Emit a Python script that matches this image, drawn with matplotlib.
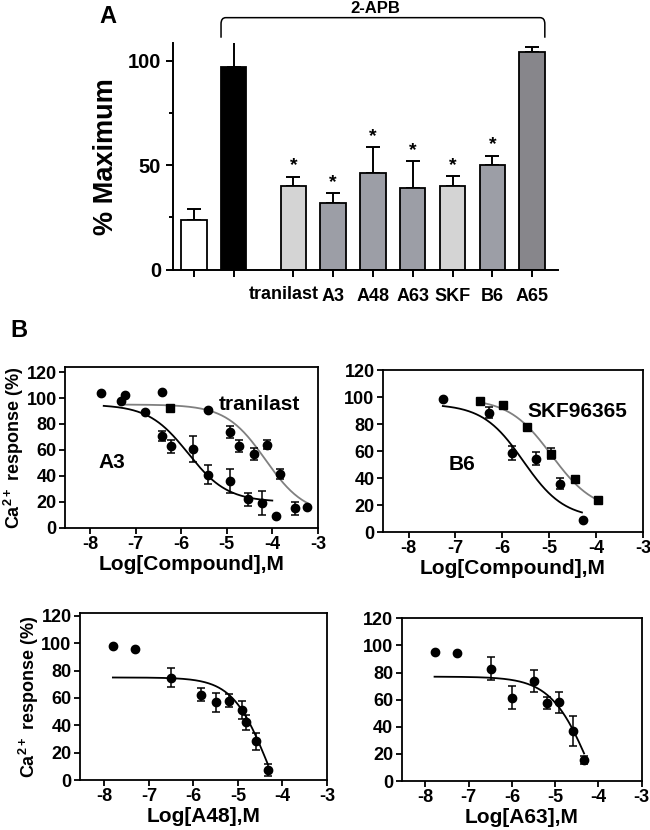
import numpy as np
import matplotlib
matplotlib.use('Agg')
import matplotlib.pyplot as plt
from matplotlib.path import Path
from matplotlib.patches import PathPatch

plt.rcParams['font.family'] = ['Liberation Sans', 'DejaVu Sans']
plt.rcParams['font.weight'] = 'bold'
plt.rcParams['axes.labelweight'] = 'bold'
plt.rcParams['axes.unicode_minus'] = False
plt.rcParams['mathtext.fontset'] = 'custom'
plt.rcParams['mathtext.rm'] = 'Liberation Sans:bold'
plt.rcParams['mathtext.bf'] = 'Liberation Sans:bold'

# ---- panel A data
bar_labels = ['', '', 'tranilast', 'A3', 'A48', 'A63', 'SKF', 'B6', 'A65']
bar_values = [23.9, 97.0, 40.1, 31.7, 46.2, 39.3, 40.1, 50.2, 104.3]
bar_errors = [5.2, 12.2, 4.5, 4.9, 12.6, 12.6, 4.9, 4.4, 2.2]
bar_stars = [False, False, True, True, True, True, True, True, False]

# ---- panel B data (log M, % response, SEM)
a3_x = [-7.75, -7.24, -6.80, -6.41, -6.42, -6.22, -5.74, -5.41, -4.92, -4.54, -4.23, -3.92]
a3_y = [103.6, 102.0, 89.5, 105.0, 70.7, 63.0, 61.0, 41.0, 36.0, 22.0, 19.3, 9.0]
a3_err = [0, 0, 0, 0, 4.0, 5.0, 10.0, 7.5, 9.5, 5.0, 9.0, 0]

tran_x = [-7.33, -6.24, -5.41, -4.92, -4.74, -4.40, -4.12, -3.83, -3.51, -3.23]
tran_y = [97.4, 92.0, 90.5, 74.0, 63.0, 57.0, 64.0, 41.6, 15.0, 16.0]
tran_err = [0, 2.0, 0, 4.5, 4.5, 4.5, 3.5, 4.0, 5.0, 0]

b6_x = [-7.27, -6.28, -5.79, -5.28, -4.77, -4.28]
b6_y = [98.3, 88.6, 58.7, 54.5, 35.9, 9.2]
b6_err = [0, 4.0, 5.0, 5.0, 4.0, 0]

skf_x = [-6.48, -5.98, -5.47, -4.97, -4.45, -3.96]
skf_y = [97.3, 94.0, 78.0, 58.0, 39.6, 23.5]
skf_err = [0, 0, 2.0, 4.0, 0, 0]

a48_x = [-7.81, -7.32, -6.50, -5.83, -5.50, -5.21, -4.92, -4.83, -4.60, -4.33]
a48_y = [98.0, 95.6, 74.8, 62.5, 56.9, 58.0, 51.0, 42.4, 28.2, 7.4]
a48_err = [0, 0, 7.0, 4.5, 7.0, 4.6, 6.5, 5.5, 6.5, 4.6]

a63_x = [-7.79, -7.28, -6.48, -6.00, -5.48, -5.19, -4.91, -4.59, -4.33]
a63_y = [95.1, 94.4, 82.8, 61.5, 73.8, 57.6, 58.0, 36.8, 15.4]
a63_err = [0, 0, 8.4, 8.6, 8.3, 4.5, 7.5, 11.0, 3.0]

# fitted curves: top, bottom, logIC50, hill, x from, x to
a3_fit = [95, 20, -5.85, 1.0, -7.7, -4.0]
tran_fit = [95, 10, -4.15, 1.0, -7.3, -3.23]
b6_fit = [95, 10, -5.55, 1.0, -7.27, -4.3]
skf_fit = [99, 15, -4.95, 0.95, -6.48, -3.96]
a48_fit = [75, -50, -4.34, 1.1, -7.81, -4.33]
a63_fit = [77, -60, -4.17, 0.95, -7.79, -4.33]


def sigmoid(fit):
    top, bottom, c, h, x0, x1 = fit
    x = np.linspace(x0, x1, 200)
    return x, bottom + (top - bottom) / (1 + 10 ** ((x - c) * h))


fig = plt.figure(figsize=(6.5, 8.3), dpi=100)

# ---------------- panel A
ax = fig.add_axes([0.266, 0.675, 0.593, 0.2735])
pos = [0, 1, 2.5, 3.5, 4.5, 5.5, 6.5, 7.5, 8.5]
colors = ['white', 'black', '#d4d4d4', '#9c9ea6', '#9c9ea6', '#9c9ea6',
          '#d4d4d4', '#9c9ea6', '#87868b']
ax.bar(pos, bar_values, width=0.64, color=colors, edgecolor='black', linewidth=1.3, zorder=2)
ax.errorbar(pos, bar_values, yerr=[[0] * len(bar_errors), bar_errors], fmt='none',
            ecolor='black', elinewidth=1.4, capsize=5, capthick=1.4, zorder=1)
for p, v, e, s in zip(pos, bar_values, bar_errors, bar_stars):
    if s:
        ax.text(p, v + e + 1.0, '*', ha='center', va='bottom', fontsize=14)
ax.set_xlim(-0.53, 9.16)
ax.set_ylim(0, 108.6)
ax.set_yticks([0, 50, 100])
ax.set_yticks([25, 75], minor=True)
ax.set_xticks(pos)
# the long 'tranilast' label sits a little left of its tick, so draw it by hand
tick_text = [t if t != 'tranilast' else '' for t in bar_labels]
ax.set_xticklabels(tick_text, fontsize=13)
ax.annotate('tranilast', xy=(pos[bar_labels.index('tranilast')], 0),
            xycoords=('data', 'axes fraction'), xytext=(-7, -11.5),
            textcoords='offset points', ha='center', va='top', fontsize=13)
ax.tick_params(axis='y', labelsize=14.5, width=1.4, length=5)
ax.tick_params(axis='y', which='minor', width=1.4, length=3)
ax.tick_params(axis='x', width=1.4, length=5, pad=8)
for sp in ['top', 'right']:
    ax.spines[sp].set_visible(False)
for sp in ['left', 'bottom']:
    ax.spines[sp].set_linewidth(1.4)
ax.set_ylabel('% Maximum', fontsize=19.5, labelpad=6)

# bracket for 2-APB
bx0, bx1, ylo, yhi, rx, ry = 0.68, 8.82, 111.0, 120.6, 0.12, 3.0
verts = [(bx0, ylo), (bx0, yhi - ry), (bx0, yhi), (bx0 + rx, yhi),
         (bx1 - rx, yhi), (bx1, yhi), (bx1, yhi - ry), (bx1, ylo)]
codes = [Path.MOVETO, Path.LINETO, Path.CURVE3, Path.CURVE3,
         Path.LINETO, Path.CURVE3, Path.CURVE3, Path.LINETO]
ax.add_patch(PathPatch(Path(verts, codes), fill=False, lw=1.1, edgecolor='black',
                       clip_on=False))
ax.text(4.55, 124.8, '2-APB', ha='center', va='center', fontsize=12)
fig.text(0.166, 0.98, 'A', fontsize=17, ha='center', va='center')
fig.text(0.029, 0.602, 'B', fontsize=17, ha='center', va='center')


def dose_panel(rect, ylim, xlabel, show_ylabel):
    a = fig.add_axes(rect)
    a.set_xlim(-8.55, -3)
    a.set_ylim(*ylim)
    a.set_xticks([-8, -7, -6, -5, -4, -3])
    a.set_yticks([0, 20, 40, 60, 80, 100, 120])
    a.tick_params(labelsize=13, width=1.3, length=4, pad=2)
    for sp in a.spines.values():
        sp.set_linewidth(1.3)
    a.set_xlabel(xlabel, fontsize=15, labelpad=1)
    if show_ylabel:
        a.set_ylabel(r'Ca$^{\mathbf{2+}}$ response (%)', fontsize=13, labelpad=0)
    return a


def points(a, x, y, err, marker='o'):
    a.errorbar(x, y, yerr=err, fmt=marker, color='black', ms=6, elinewidth=1.1,
               capsize=3, capthick=1.1, zorder=3)


# top-left: A3 and tranilast
ax1 = dose_panel([0.1, 0.364, 0.389, 0.194], (0, 124), 'Log[Compound],M', True)
xs, ys = sigmoid(tran_fit)
ax1.plot(xs, ys, color='#808080', lw=1.3)
xs, ys = sigmoid(a3_fit)
ax1.plot(xs, ys, color='black', lw=1.3)
points(ax1, a3_x, a3_y, a3_err)
tran_marks = ['o', 's', 'o', 'o', 'o', 'o', 'o', 'o', 'o', 'o']
for x, y, e, m in zip(tran_x, tran_y, tran_err, tran_marks):
    points(ax1, [x], [y], [e], m)
ax1.text(-4.29, 94.8, 'tranilast', ha='center', va='center', fontsize=15)
ax1.text(-7.53, 50, 'A3', ha='center', va='center', fontsize=15)

# top-right: B6 and SKF96365
ax2 = dose_panel([0.589, 0.359, 0.4, 0.195], (0, 120), 'Log[Compound],M', False)
xs, ys = sigmoid(skf_fit)
ax2.plot(xs, ys, color='#808080', lw=1.3)
xs, ys = sigmoid(b6_fit)
ax2.plot(xs, ys, color='black', lw=1.3)
points(ax2, b6_x, b6_y, b6_err)
points(ax2, skf_x, skf_y, skf_err, 's')
ax2.text(-4.4, 89, 'SKF96365', ha='center', va='center', fontsize=15)
ax2.text(-6.86, 49.7, 'B6', ha='center', va='center', fontsize=15)

# bottom-left: A48
ax3 = dose_panel([0.123, 0.0602, 0.38, 0.201], (0, 122), 'Log[A48],M', True)
xs, ys = sigmoid(a48_fit)
ax3.plot(xs, ys, color='black', lw=1.3)
points(ax3, a48_x, a48_y, a48_err)

# bottom-right: A63
ax4 = dose_panel([0.618, 0.059, 0.369, 0.196], (0, 120), 'Log[A63],M', False)
xs, ys = sigmoid(a63_fit)
ax4.plot(xs, ys, color='black', lw=1.3)
points(ax4, a63_x, a63_y, a63_err)

fig.savefig('out.png', dpi=100)
